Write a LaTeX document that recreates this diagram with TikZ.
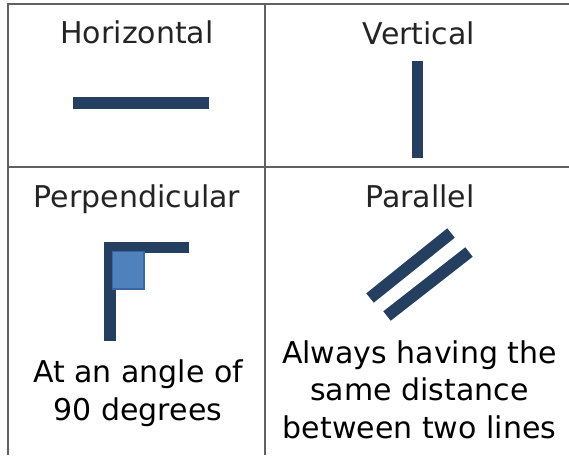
\documentclass[tikz,border=0pt]{standalone}
\usepackage{fontspec}
\setmainfont{DejaVu Sans}
\begin{document}
\begin{tikzpicture}[x=1pt,y=-1pt,
  grid/.style={draw=black!62,line width=2.3pt},
  bar/.style={fill=barblue},
  title/.style={anchor=base,font=\fontsize{30}{37.5}\selectfont,text=black!86,inner sep=0pt},
  body/.style={anchor=base,font=\fontsize{30}{37.5}\selectfont,text=black,align=center,inner sep=0pt},
  pline/.style={draw=barblue,line width=12pt}]
\definecolor{barblue}{HTML}{243F60}
\definecolor{sqfill}{HTML}{4F81BD}
\definecolor{sqedge}{HTML}{3A66A0}
\useasboundingbox (0,0) rectangle (569,455);
% grid
\draw[grid] (8,455) -- (8,4) -- (569,4);
\draw[grid] (265,4) -- (265,455);
\draw[grid] (8,167) -- (569,167);
% titles
\node[title] (th) at (137,43) {Horizontal};
\node[title] (tv) at (419,44) {Vertical};
\node[title] (tp) at (137,207) {Perpendicular};
\node[title] (tpa) at (420,207) {Parallel};
% horizontal
\fill[bar] (73,97) rectangle (209,109);
% vertical
\fill[bar] (412,61) rectangle (423,158);
% perpendicular
\fill[bar] (104,243) rectangle (116,341);
\fill[bar] (104,242) rectangle (189,253);
\filldraw[fill=sqfill,draw=sqedge,line width=1.2pt] (112.5,251.5) rectangle (144,289);
% parallel
\draw[pline] (370,298) -- (451,233);
\draw[pline] (387,316) -- (469,252);
% body texts (base anchor = last line's baseline)
\node[body] (bp) at (138,420) {At an angle of\\90 degrees};
\node[body] (bpa) at (419.5,438) {Always having the\\same distance\\between two lines};
\end{tikzpicture}
\end{document}
